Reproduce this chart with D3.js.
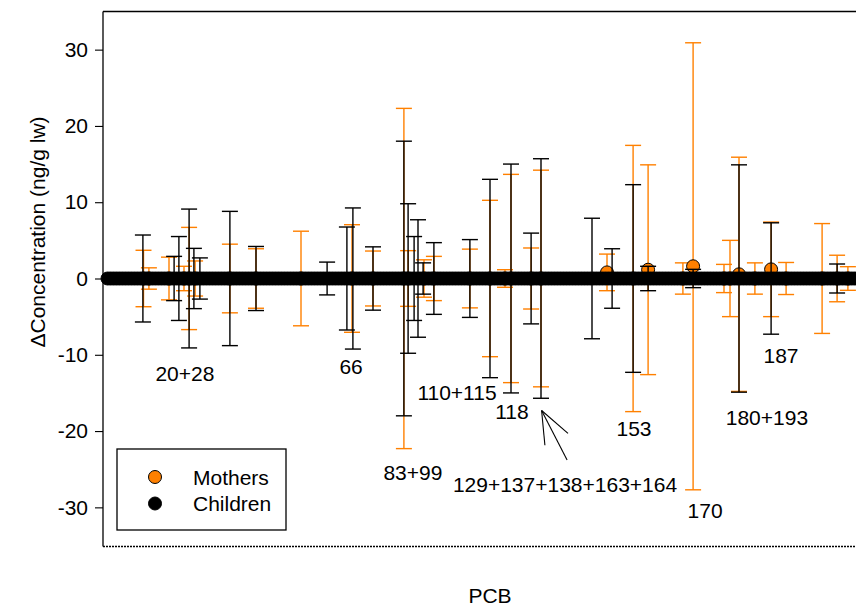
<!DOCTYPE html>
<html><head><meta charset="utf-8">
<script src="https://cdn.jsdelivr.net/npm/d3@7"></script>
<style>
body{margin:0;background:#fff}
svg{display:block}
text{font-family:"Liberation Sans",Arial,Helvetica,sans-serif;fill:#000}
</style>
</head><body>
<svg id="chart" width="856" height="608"></svg>
<script>
// ---- data ----
const yTickValues = [-30, -20, -10, 0, 10, 20, 30];

// children: change in concentration for every sample position (all zero)
const childMeans = [
0,0,0,0,0,0,0,0,0,0,0,0,0,0,0,0,0,0,0,0,0,0,0,0,0,0,0,0,0,0,0,0,0,0,0,0,
0,0,0,0,0,0,0,0,0,0,0,0,0,0,0,0,0,0,0,0,0,0,0,0,0,0,0,0,0,0,0,0,0,0,0,0,
0,0,0,0,0,0,0,0,0,0,0,0,0,0,0,0,0,0,0,0,0,0,0,0,0,0,0,0,0,0,0,0,0,0,0,0,
0,0,0,0,0,0,0,0,0,0,0,0,0,0,0,0,0,0,0,0,0,0,0,0,0,0,0,0,0,0,0,0,0,0,0,0,
0,0,0,0,0,0,0,0,0,0,0,0,0,0,0,0,0,0,0,0,0,0,0,0,0,0,0,0,0,0,0,0,0,0,0,0,
0,0,0,0,0,0,0,0,0,0,0,0,0,0,0,0,0,0,0,0,0,0,0,0,0,0,0,0,0,0,0,0,0,0,0,0,
0,0,0,0,0,0,0,0,0,0,0,0,0,0,0,0,0,0,0,0,0,0,0,0,0,0,0,0,0,0,0,0,0,0,0,0
];

// children error bars (position index, half-width)
const childBarIndex = [11.8, 22.2, 23.8, 27.2, 28.8, 30.8, 40.8, 49.5, 73.2, 79.8, 81.8, 88.5,
  98.8, 100.2, 102.2, 103.5, 105.2, 108.8, 120.8, 127.5, 134.5, 141.2, 144.5, 161.5,
  168.2, 175.2, 180.2, 195.2, 210.5, 221.2, 243.2];
const childBarError = [5.7, 2.9, 5.5, 9.1, 3.95, 2.7, 8.8, 4.2, 2.15, 6.75, 9.25, 4.15,
  18.0, 9.8, 5.5, 7.7, 2.05, 4.7, 5.1, 13.0, 15.0, 5.95, 15.7, 7.9,
  3.9, 12.3, 1.6, 1.2, 14.9, 7.3, 1.9];

// mothers (position index, mean, half-width)
const motherIndex = [12.0, 13.8, 20.5, 25.5, 27.2, 29.2, 40.8, 49.5, 64.5, 81.5, 88.5, 98.8,
  100.2, 105.5, 108.8, 120.8, 127.5, 132.5, 134.5, 141.2, 144.5, 166.5, 175.2, 180.2,
  191.8, 195.2, 205.5, 207.5, 210.5, 215.8, 221.2, 226.2, 238.2, 243.2, 246.8];
const motherMeans = [0, 0, 0, 0, 0, 0, 0, 0, 0, 0, 0, 0,
  0, 0, 0, 0, 0, 0, 0, 0, 0, 0.8, 0, 1.15,
  0, 1.6, 0, 0, 0.55, 0, 1.2, 0, 0, 0, 0];
const motherError = [3.7, 1.4, 2.8, 1.6, 6.7, 2.3, 4.5, 3.9, 6.2, 7.05, 3.6, 22.3,
  3.65, 2.45, 2.9, 3.85, 10.25, 1.15, 13.65, 4.0, 14.2, 2.4, 17.45, 13.75,
  2.05, 29.3, 1.85, 5.0, 15.35, 2.05, 6.2, 2.1, 7.2, 3.05, 1.55];

// PCB congener labels (position index, value of text centre)
const labelTexts = ["20+28", "66", "83+99", "110+115", "118", "129+137+138+163+164",
  "153", "170", "180+193", "187"];
const labelIndex = [25.8, 81.2, 101.8, 116.5, 134.8, 152.5, 175.5, 199.2, 219.8, 224.5];
const labelValue = [-12.4, -11.5, -25.4, -15.0, -17.4, -27.0, -19.6, -30.4, -18.2, -10.1];

// pointer lines for the "129+137+..." label
const pointerStart = [144.7, -17.3];
const pointerEndIndex = [145.8, 153.5, 153.2];
const pointerEndValue = [-21.85, -20.3, -23.8];

const seriesNames = ["Mothers", "Children"];
const seriesColors = ["#ff8000", "#000000"];

// ---- drawing ----
const svg = d3.select("#chart");
const plotLeft = 103, plotTop = 11.5, plotBottom = 545.5;
const fontSize = 21;

const x = d3.scaleLinear().domain([0, childMeans.length - 1]).range([107.5, 107.5 + 3 * (childMeans.length - 1)]);
const y = d3.scaleLinear().domain([-35, 35]).range([plotBottom, plotTop]);

const capHalf = 8;
function drawBars(g, idx, means, errs, color) {
  const sel = g.selectAll("g.bar").data(idx.map((d, i) => ({ i: d, m: means[i], e: errs[i] })))
    .join("g").attr("class", "bar")
    .attr("stroke", color).attr("stroke-width", 1.4).attr("fill", "none");
  sel.append("line")
    .attr("x1", d => x(d.i)).attr("x2", d => x(d.i))
    .attr("y1", d => y(d.m + d.e)).attr("y2", d => y(d.m - d.e));
  sel.append("line")
    .attr("x1", d => x(d.i) - capHalf).attr("x2", d => x(d.i) + capHalf)
    .attr("y1", d => y(d.m + d.e)).attr("y2", d => y(d.m + d.e));
  sel.append("line")
    .attr("x1", d => x(d.i) - capHalf).attr("x2", d => x(d.i) + capHalf)
    .attr("y1", d => y(d.m - d.e)).attr("y2", d => y(d.m - d.e));
}

// mothers error bars and points
drawBars(svg.append("g"), motherIndex, motherMeans, motherError, seriesColors[0]);
svg.append("g").selectAll("circle").data(motherIndex.map((d, i) => [d, motherMeans[i]]))
  .join("circle")
  .attr("cx", d => x(d[0])).attr("cy", d => y(d[1])).attr("r", 6.5)
  .attr("fill", seriesColors[0]).attr("stroke", "#000").attr("stroke-width", 1);

// children error bars and points
const childBarMeans = childBarIndex.map(d => childMeans[Math.round(d)]);
drawBars(svg.append("g"), childBarIndex, childBarMeans, childBarError, seriesColors[1]);
svg.append("g").selectAll("circle").data(childMeans.map((v, i) => [i, v]))
  .join("circle")
  .attr("cx", d => x(d[0])).attr("cy", d => y(d[1])).attr("r", 6.5)
  .attr("fill", "#000").attr("stroke", "#000").attr("stroke-width", 1);

// frame
svg.append("line").attr("x1", plotLeft).attr("x2", 900).attr("y1", plotTop).attr("y2", plotTop)
  .attr("stroke", "#000").attr("stroke-width", 1.3);
svg.append("line").attr("x1", plotLeft).attr("x2", 900).attr("y1", plotBottom + 1).attr("y2", plotBottom + 1)
  .attr("stroke", "#000").attr("stroke-width", 1.3).attr("stroke-dasharray", "2,1");

// y axis
const yAxis = svg.append("g").attr("transform", `translate(${plotLeft},0)`)
  .call(d3.axisLeft(y).tickValues(yTickValues).tickFormat(d => String(d))
    .tickSize(8).tickPadding(7).tickSizeOuter(0));
yAxis.select(".domain").attr("stroke-width", 1.3).attr("d", `M0,${plotTop}V${plotBottom + 1}`);
yAxis.selectAll(".tick line").attr("stroke-width", 1.1);
yAxis.selectAll(".tick text").attr("font-size", fontSize).attr("font-family", "Liberation Sans, Arial, sans-serif");

// axis titles
svg.append("text").attr("transform", "translate(45,232) rotate(-90)")
  .attr("text-anchor", "middle").attr("font-size", fontSize).text("\u0394Concentration (ng/g lw)");
svg.append("text").attr("x", 490).attr("y", 603).attr("text-anchor", "middle")
  .attr("font-size", fontSize).text("PCB");

// congener labels
svg.append("g").selectAll("text").data(labelTexts.map((t, i) => ({ t, i: labelIndex[i], v: labelValue[i] })))
  .join("text")
  .attr("x", d => x(d.i)).attr("y", d => y(d.v)).attr("dy", "0.36em")
  .attr("text-anchor", "middle").attr("font-size", fontSize).text(d => d.t);

// pointer lines
svg.append("g").selectAll("line").data(pointerEndIndex.map((d, i) => [d, pointerEndValue[i]]))
  .join("line")
  .attr("x1", x(pointerStart[0])).attr("y1", y(pointerStart[1]))
  .attr("x2", d => x(d[0])).attr("y2", d => y(d[1]))
  .attr("stroke", "#000").attr("stroke-width", 1.1);

// legend
const lg = svg.append("g");
lg.append("rect").attr("x", 117).attr("y", 449).attr("width", 169).attr("height", 81)
  .attr("fill", "#fff").attr("stroke", "#000").attr("stroke-width", 1.3);
seriesNames.forEach((name, i) => {
  const cy = 477 + i * 26.5;
  lg.append("circle").attr("cx", 155).attr("cy", cy).attr("r", 6.5)
    .attr("fill", seriesColors[i]).attr("stroke", "#000").attr("stroke-width", 1);
  lg.append("text").attr("x", 193).attr("y", cy).attr("dy", "0.36em")
    .attr("font-size", fontSize).text(name);
});
</script>
</body></html>
